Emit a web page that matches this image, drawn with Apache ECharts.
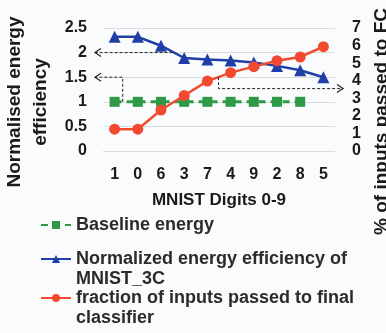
<!DOCTYPE html>
<html>
<head>
<meta charset="utf-8">
<script src="https://cdn.jsdelivr.net/npm/echarts@6/dist/echarts.min.js"></script>
<style>
  html, body { margin: 0; padding: 0; background: #fafbfd; }
  #chart { width: 386px; height: 333px; }
</style>
</head>
<body>
<div id="chart"></div>
<script>
// MNIST digits, sorted the way the figure shows them
const digits = ['1', '0', '6', '3', '7', '4', '9', '2', '8', '5'];
const baseline = [1, 1, 1, 1, 1, 1, 1, 1, 1, null];
const efficiency = [2.32, 2.32, 2.14, 1.89, 1.86, 1.84, 1.80, 1.73, 1.64, 1.50];
const fraction = [1.24, 1.24, 2.33, 3.16, 3.98, 4.46, 4.80, 5.14, 5.35, 5.94]; // right axis, %
const leftTicks = [0, 2.5, 0.5];
const rightTicks = [0, 7, 1];

const FONT = '"Liberation Sans", Arial, sans-serif';
const INK = '#1a1a1a';

const chart = echarts.init(document.getElementById('chart'));

// two-line names: pad with an empty line on top so the icon sits by the first line
const legendBase = {
  orient: 'vertical',
  left: 40,
  padding: 0,
  itemWidth: 30,
  itemHeight: 10,
  selectedMode: false,
  formatter: function (name) {
    return name.indexOf('\n') >= 0 ? ' \n' + name : name;
  },
  textStyle: { fontFamily: FONT, fontSize: 18, fontWeight: 'bold', color: '#2b2b2b', lineHeight: 20 }
};

const option = {
  backgroundColor: '#fafbfd',
  animation: false,
  grid: { left: 103, right: 51, top: 28, bottom: 182, outerBoundsMode: 'none' },
  legend: [
    Object.assign({}, legendBase, { top: 215, data: ['Baseline energy'] }),
    Object.assign({}, legendBase, { top: 229, data: ['Normalized energy efficiency of\nMNIST_3C'] }),
    Object.assign({}, legendBase, { top: 268, data: ['fraction of inputs passed to final\nclassifier'] })
  ],
  xAxis: {
    type: 'category',
    data: digits,
    axisLine: { show: false },
    axisTick: { show: false },
    axisLabel: { margin: 16, fontFamily: FONT, fontSize: 16, fontWeight: 'bold', color: INK },
    name: 'MNIST Digits 0-9',
    nameLocation: 'middle',
    nameGap: 41,
    nameTextStyle: { fontFamily: FONT, fontSize: 17, fontWeight: 'bold', color: INK }
  },
  yAxis: [
    {
      type: 'value',
      min: leftTicks[0], max: leftTicks[1], interval: leftTicks[2],
      axisLine: { show: false },
      axisTick: { show: false },
      splitLine: { lineStyle: { color: '#dcdcdc', width: 1 } },
      axisLabel: { margin: 16, fontFamily: FONT, fontSize: 16, fontWeight: 'bold', color: INK },
      name: 'Normalised energy\nefficiency',
      nameLocation: 'middle',
      nameRotate: 90,
      nameGap: 37,
      nameTextStyle: {
        fontFamily: FONT, fontSize: 19, fontWeight: 'bold', color: INK,
        lineHeight: 26, padding: [0, 25, 0, 0]
      }
    },
    {
      type: 'value',
      position: 'right',
      min: rightTicks[0], max: rightTicks[1], interval: rightTicks[2],
      axisLine: { show: false },
      axisTick: { show: false },
      splitLine: { show: false },
      axisLabel: { margin: 17, fontFamily: FONT, fontSize: 16, fontWeight: 'bold', color: INK },
      name: '% of inputs passed to FC',
      nameLocation: 'middle',
      nameRotate: 90,
      nameGap: 31,
      nameTextStyle: {
        fontFamily: FONT, fontSize: 19, fontWeight: 'bold', color: INK,
        padding: [0, 64, 0, 0]
      }
    }
  ],
  series: [
    {
      name: 'Baseline energy',
      type: 'line',
      data: baseline,
      symbol: 'rect',
      symbolSize: 10,
      itemStyle: { color: '#2f9a45' },
      lineStyle: { color: '#2f9a45', width: 3, type: [7, 5] },
      z: 2
    },
    {
      name: 'Normalized energy efficiency of\nMNIST_3C',
      type: 'line',
      data: efficiency,
      symbol: 'triangle',
      symbolSize: 12,
      itemStyle: { color: '#1f3ea6' },
      lineStyle: { color: '#1f3ea6', width: 2.5 },
      z: 3
    },
    {
      name: 'fraction of inputs passed to final\nclassifier',
      type: 'line',
      yAxisIndex: 1,
      data: fraction,
      symbol: 'circle',
      symbolSize: 11,
      itemStyle: { color: '#f24a30' },
      lineStyle: { color: '#f24a30', width: 2.5 },
      z: 4
    }
  ]
};

chart.setOption(option);

// dashed call-out arrows, anchored to the axes
function xAt(pos) {
  const i = Math.floor(pos);
  const a = chart.convertToPixel({ xAxisIndex: 0 }, i);
  const b = chart.convertToPixel({ xAxisIndex: 0 }, i + 1);
  return a + (b - a) * (pos - i);
}
function yLeft(v) { return chart.convertToPixel({ yAxisIndex: 0 }, v); }
function yRight(v) { return chart.convertToPixel({ yAxisIndex: 1 }, v); }

const plotLeft = 103;
const plotRight = 386 - 51;
const dash = { stroke: '#222', lineWidth: 1, lineDash: [3, 2], fill: null };
const head = { stroke: '#222', lineWidth: 1.2, fill: null };

function arrow(points, dir) {
  const end = points[points.length - 1];
  const s = dir === 'left' ? 1 : -1;
  return [
    { type: 'polyline', shape: { points: points }, style: dash, z: 10 },
    {
      type: 'polyline',
      shape: { points: [[end[0] + s * 6, end[1] - 4], end, [end[0] + s * 6, end[1] + 4]] },
      style: head, z: 10
    }
  ];
}

const graphics = [].concat(
  arrow([[xAt(2.5), yLeft(2)], [plotLeft - 8, yLeft(2)]], 'left'),
  arrow([[xAt(0.35), yLeft(1)], [xAt(0.35), yLeft(1.5)], [plotLeft - 8, yLeft(1.5)]], 'left'),
  arrow([[xAt(4.48), yRight(4.2)], [xAt(4.48), yRight(3.55)], [plotRight + 8, yRight(3.55)]], 'right')
);

chart.setOption({ graphic: graphics });
</script>
</body>
</html>
